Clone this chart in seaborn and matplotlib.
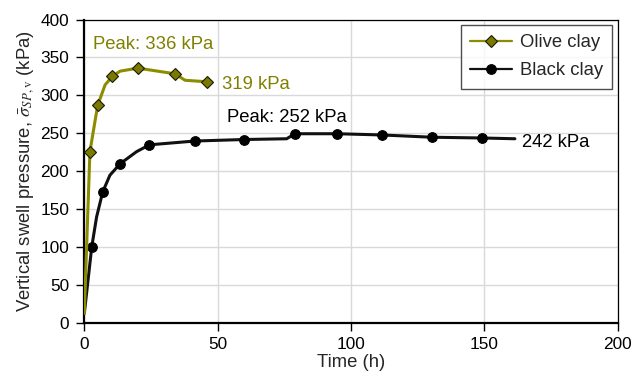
import matplotlib
matplotlib.use("Agg")
import matplotlib.pyplot as plt
import seaborn as sns
import pandas as pd

# Olive clay: curve points, markers at selected indices
olive_time = [0, 2.1, 5.0, 7.8, 10.5, 13.4, 20.1, 34.0, 37.8, 46.0]
olive_pressure = [13, 226, 287, 314, 325, 332, 336, 328.5, 320, 318]
olive_marker_idx = [1, 2, 4, 6, 7, 9]

# Black clay
black_time = [0, 2.8, 4.6, 6.9, 9.6, 13.4, 19.6, 24.4, 41.4, 60.0, 75.9, 79.0, 94.9, 111.5, 130.5, 149.3, 161.5]
black_pressure = [13, 101, 140, 173, 195, 210, 226, 235, 240, 242, 243, 249.6, 249.6, 248, 245, 244, 243]
black_marker_idx = [1, 3, 5, 7, 8, 9, 11, 12, 13, 14, 15]

olive_df = pd.DataFrame({"t": olive_time, "p": olive_pressure})
black_df = pd.DataFrame({"t": black_time, "p": black_pressure})

sns.set_style("ticks")
plt.rcParams["font.family"] = ["Liberation Sans", "DejaVu Sans"]
plt.rcParams["mathtext.fontset"] = "stix"

fig = plt.figure(figsize=(6.34, 3.81), dpi=100)
ax = fig.add_axes([0.133, 0.1514, 0.841, 0.7974])

OLIVE = "#8c8c00"
OLIVE_TXT = "#808000"
FS = 13.3
TFS = 12.4

sns.lineplot(data=olive_df, x="t", y="p", ax=ax, sort=False, color=OLIVE, lw=2.2,
             marker="D", markersize=6.5, markerfacecolor="#7a7a00", markeredgecolor="#1a1a00",
             markeredgewidth=0.8, markevery=olive_marker_idx, label="Olive clay", zorder=4)
sns.lineplot(data=black_df, x="t", y="p", ax=ax, sort=False, color="#111111", lw=2.2,
             marker="o", markersize=7, markerfacecolor="black", markeredgecolor="black",
             markevery=black_marker_idx, label="Black clay", zorder=3)

ax.set_xlim(0, 200)
ax.set_ylim(0, 400)
ax.set_xticks([0, 50, 100, 150, 200])
ax.set_yticks(range(0, 401, 50))
ax.grid(True, color="#d9d9d9", lw=1)
ax.set_axisbelow(True)
ax.tick_params(labelsize=TFS, colors="black", length=6, width=1)
ax.tick_params(axis="y", pad=5)
ax.set_xlabel("Time (h)", fontsize=FS, labelpad=2)
ax.set_ylabel(r"Vertical swell pressure, $\bar{\sigma}_{SP,\mathrm{v}}$ (kPa)", fontsize=FS, labelpad=3)

for s in ["left", "bottom"]:
    ax.spines[s].set_linewidth(1.6)
    ax.spines[s].set_color("black")
for s in ["top", "right"]:
    ax.spines[s].set_visible(True)
    ax.spines[s].set_linewidth(0.9)
    ax.spines[s].set_color("black")

ax.text(3.3, 367, "Peak: 336 kPa", color=OLIVE_TXT, fontsize=FS, va="center", ha="left")
ax.text(51.6, 314, "319 kPa", color=OLIVE_TXT, fontsize=FS, va="center", ha="left")
ax.text(53.5, 271, "Peak: 252 kPa", color="black", fontsize=FS, va="center", ha="left")
ax.text(164, 238, "242 kPa", color="black", fontsize=FS, va="center", ha="left")

leg = ax.legend(loc="upper right", fontsize=FS, frameon=True, fancybox=False,
                borderaxespad=0.3, handlelength=2.3, handletextpad=0.4,
                borderpad=0.5, labelspacing=0.6)
leg.get_frame().set_edgecolor("#222222")
leg.get_frame().set_linewidth(1.0)
for h in leg.get_lines():
    h.set_linewidth(1.6)

fig.savefig("out.png", dpi=100)
